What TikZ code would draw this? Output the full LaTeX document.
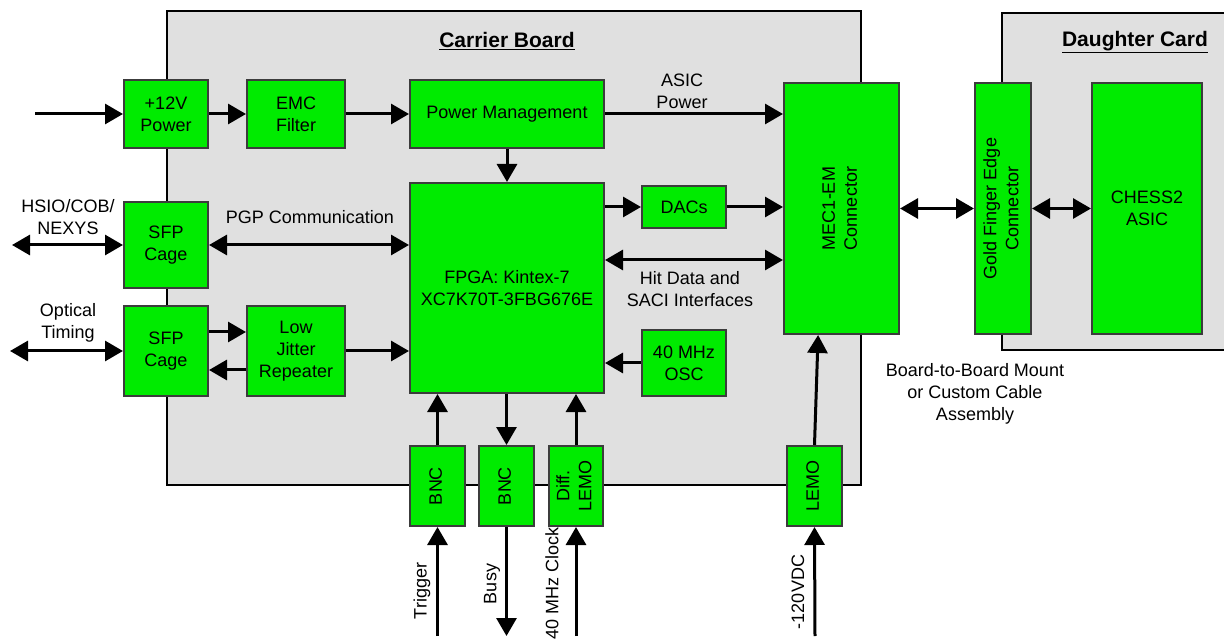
\documentclass[tikz,border=0pt]{standalone}
\usepackage{fontspec}
\usepackage{graphicx}
\setmainfont{Liberation Sans}
\usetikzlibrary{arrows.meta,calc}
\definecolor{boxgreen}{RGB}{0,235,0}
\definecolor{boardgray}{RGB}{224,224,224}
\definecolor{boxedge}{RGB}{60,60,60}
\newcommand{\vtext}[1]{\rotatebox{90}{\begin{tabular}{@{}c@{}}#1\end{tabular}}}
\begin{document}
\begin{tikzpicture}[x=1pt,y=-1pt,
  txt/.style={font=\fontsize{18}{22}\selectfont},
  blk/.style={txt, draw=boxedge, line width=2pt, fill=boxgreen, align=center, inner sep=1pt},
  board/.style={draw=black, line width=2.5pt, fill=boardgray},
  con/.style={line width=3pt, -{Triangle[length=18pt,width=20pt]}},
  bicon/.style={line width=3pt, {Triangle[length=18pt,width=20pt]}-{Triangle[length=18pt,width=20pt]}},
  lbl/.style={txt, align=center, inner sep=0pt},
  ttl/.style={font=\fontsize{21}{25}\selectfont\bfseries}]
\useasboundingbox (0,0) rectangle (1224,644);
\fill[white] (0,0) rectangle (1224,644);

% boards
\draw[board] (167,11) rectangle (861,485);
\draw[board] (1002,13) rectangle (1240,350);
\node[ttl] (tcar) at (507,41) {\underline{Carrier Board}};
\node[ttl] (tdau) at (1135,42) {\underline{Daughter Card}};

% blocks
\node[blk, minimum width=84pt, minimum height=68pt] (pwr) at (166,114) {+12V\\Power};
\node[blk, minimum width=98pt, minimum height=68pt] (emc) at (296,114) {EMC\\Filter};
\node[blk, minimum width=194pt, minimum height=68pt] (pm) at (507,114) {Power Management};
\node[blk, minimum width=194pt, minimum height=210pt] (fpga) at (507,288) {FPGA: Kintex-7\\XC7K70T-3FBG676E};
\node[blk, minimum width=84pt, minimum height=42pt] (dacs) at (684,207) {DACs};
\node[blk, minimum width=84pt, minimum height=66pt] (osc) at (684,363) {40 MHz\\OSC};
\node[blk, minimum width=115pt, minimum height=251pt] (mec) at (841.5,208.5) {\vtext{MEC1-EM\\Connector}};
\node[blk, minimum width=56pt, minimum height=251pt] (gold) at (1003,208.5) {\vtext{Gold Finger Edge\\Connector}};
\node[blk, minimum width=110pt, minimum height=251pt] (chess) at (1147,208.5) {CHESS2\\ASIC};
\node[blk, minimum width=84pt, minimum height=86pt] (sfpa) at (166,245) {SFP\\Cage};
\node[blk, minimum width=84pt, minimum height=90pt] (sfpb) at (166,351) {SFP\\Cage};
\node[blk, minimum width=98pt, minimum height=90pt] (ljr) at (296,351) {Low\\Jitter\\Repeater};
\node[blk, minimum width=55pt, minimum height=80pt] (bnca) at (437.5,486) {\vtext{BNC}};
\node[blk, minimum width=55pt, minimum height=80pt] (bncb) at (506.5,486) {\vtext{BNC}};
\node[blk, minimum width=54pt, minimum height=80pt] (dlemo) at (576,486) {\vtext{Diff.\\LEMO}};
\node[blk, minimum width=55pt, minimum height=80pt] (lemo) at (814.5,486) {\vtext{LEMO}};

% free ends
\coordinate (in12) at (35,114);
\coordinate (hsio) at (12,245);
\coordinate (optin) at (10,351);
\coordinate (trig) at (437.5,636);
\coordinate (busy) at (506.5,636);
\coordinate (clk) at (576,636);
\coordinate (vdc) at (815,636);
\coordinate (yhit) at (0,260);
\coordinate (ytx) at (0,332);
\coordinate (yrx) at (0,370);

% connectors
\draw[con] (in12) -- (pwr.west);
\draw[con] (pwr) -- (emc);
\draw[con] (emc) -- (pm);
\draw[con] (pm.east) -- (pm.east -| mec.west);
\draw[con] (pm) -- (fpga);
\draw[con] (fpga.east |- dacs) -- (dacs.west);
\draw[con] (dacs.east) -- (dacs.east -| mec.west);
\draw[bicon] (fpga.east |- yhit) -- (mec.west |- yhit);
\draw[bicon] (hsio) -- (sfpa.west);
\draw[bicon] (sfpa.east) -- (sfpa.east -| fpga.west);
\draw[bicon] (optin) -- (sfpb.west);
\draw[con] (sfpb.east |- ytx) -- (ljr.west |- ytx);
\draw[con] (ljr.west |- yrx) -- (sfpb.east |- yrx);
\draw[con] (ljr.east) -- (ljr.east -| fpga.west);
\draw[con] (osc.west) -- (osc.west -| fpga.east);
\draw[con] (bnca.north) -- (bnca.north |- fpga.south);
\draw[con] (fpga.south -| bncb.north) -- (bncb.north);
\draw[con] (dlemo.north) -- (dlemo.north |- fpga.south);
\draw[con] (trig) -- (bnca.south);
\draw[con] (bncb.south) -- (busy);
\draw[con] (clk) -- (dlemo.south);
\draw[con] (vdc) -- (lemo.south);
\draw[con] (lemo.north) -- ($(mec.south west)!0.3!(mec.south east)$);
\draw[bicon] (mec) -- (gold);
\draw[bicon] (gold) -- (chess);

% labels
\node[lbl] (lasic) at (682,91) {ASIC\\Power};
\node[lbl] (lpgp) at (310,217) {PGP Communication};
\node[lbl] (lhit) at (690,289) {Hit Data and\\SACI Interfaces};
\node[lbl] (lhsio) at (68,217) {HSIO/COB/\\NEXYS};
\node[lbl] (lopt) at (68,323) {Optical\\Timing};
\node[lbl] (lb2b) at (975,394) {Board-to-Board Mount\\or Custom Cable\\Assembly};
\node[lbl, rotate=90] (ltrig) at (422,591) {Trigger};
\node[lbl, rotate=90] (lbusy) at (492,584) {Busy};
\node[lbl, rotate=90, anchor=east] (lclk) at (552,527) {40 MHz Clock};
\node[lbl, rotate=90] (lvdc) at (798,592) {-120VDC};
\end{tikzpicture}
\end{document}
